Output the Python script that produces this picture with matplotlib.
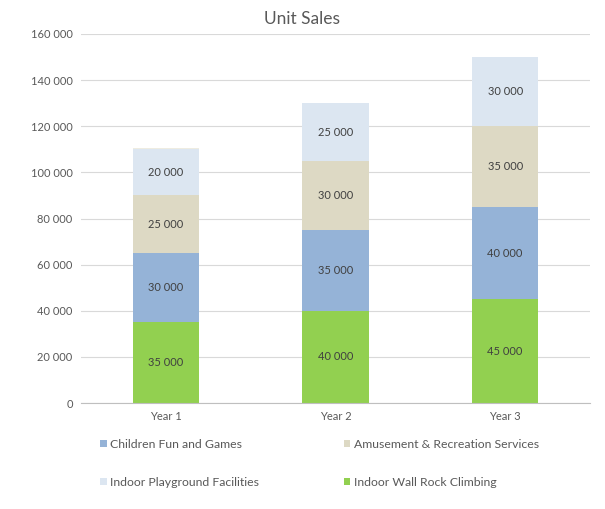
import matplotlib
matplotlib.use("Agg")
import matplotlib.pyplot as plt
import numpy as np

plt.rcParams['font.family'] = ['Lato', 'DejaVu Sans']

years = ["Year 1", "Year 2", "Year 3"]
wall_rock = [35000, 40000, 45000]
children_fun = [30000, 35000, 40000]
amusement = [25000, 30000, 35000]
playground = [20000, 25000, 30000]
extra = [600, 0, 0]  # thin unlabeled sliver on Year 1

series = [
    ("Indoor Wall Rock Climbing", wall_rock, "#92d050"),
    ("Children Fun and Games", children_fun, "#95b3d7"),
    ("Amusement & Recreation Services", amusement, "#ddd9c4"),
    ("Indoor Playground Facilities", playground, "#dce6f1"),
]

fig = plt.figure(figsize=(6.05, 5.09), dpi=100)
ax = fig.add_axes([81/605, 1-403/509, 509/605, 369/509])

x = np.arange(len(years))
bottom = np.zeros(len(years))
handles = {}
for name, vals, col in series:
    vals = np.array(vals, dtype=float)
    b = ax.bar(x, vals, 0.39, bottom=bottom, color=col, label=name, zorder=3)
    handles[name] = b
    for xi, v, bo in zip(x, vals, bottom):
        ax.text(xi, bo + v/2, f"{int(v):,}".replace(",", " "), ha='center', va='center',
                fontsize=8, color='#404040', zorder=4)
    bottom += vals
ax.bar(x, extra, 0.39, bottom=bottom, color="#eeece1", zorder=3)

ax.set_xlim(-0.5, 2.5)
ax.set_ylim(0, 160000)
ax.set_yticks(np.arange(0, 160001, 20000))
ax.set_yticklabels([f"{v:,}".replace(",", " ") for v in range(0, 160001, 20000)])
ax.set_xticks(x)
ax.set_xticklabels(years)
ax.tick_params(axis='both', length=0, labelsize=8, colors='#595959')
ax.tick_params(axis='y', pad=6)
ax.tick_params(axis='x', pad=6)
ax.yaxis.grid(True, color='#d9d9d9', linewidth=0.8, zorder=0)
for s in ['top', 'right', 'left']:
    ax.spines[s].set_visible(False)
ax.spines['bottom'].set_color('#bfbfbf')
ax.spines['bottom'].set_zorder(5)

fig.text(0.5, 1-19/509, "Unit Sales", ha='center', va='center', fontsize=12.5, color='#595959')

order = ["Children Fun and Games", "Indoor Playground Facilities",
         "Amusement & Recreation Services", "Indoor Wall Rock Climbing"]
leg = fig.legend([handles[n] for n in order], order, ncol=2, loc='upper left',
                 bbox_to_anchor=(100/605, 1-439/509), frameon=False, fontsize=8.8,
                 handlelength=0.55, handleheight=0.55, handletextpad=0.3,
                 columnspacing=6.9, labelspacing=2.2, labelcolor='#595959',
                 borderaxespad=0, borderpad=0)

fig.savefig("out.png", dpi=100, facecolor='white')
